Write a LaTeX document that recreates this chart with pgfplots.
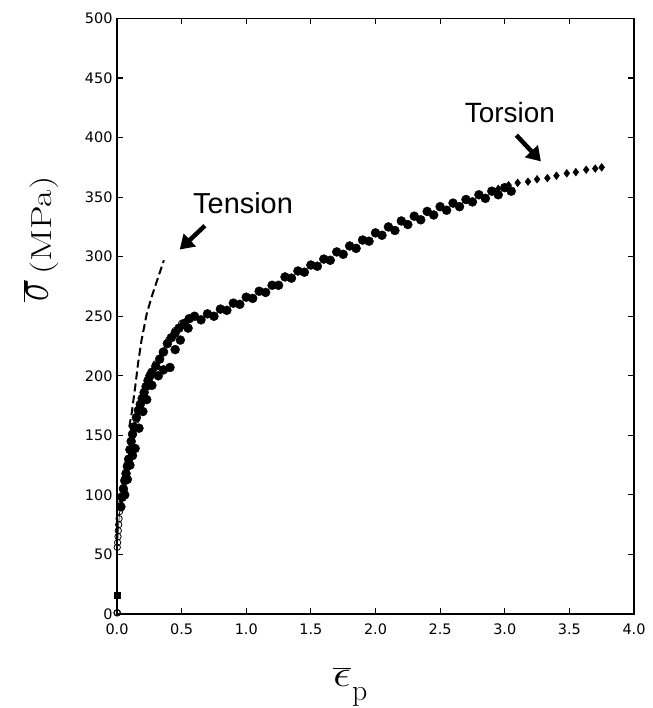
\RequirePackage{fix-cm}
\documentclass[border=0pt]{standalone}
\usepackage{pgfplots}
\pgfplotsset{compat=1.18}
\usepackage{fontspec}
\usetikzlibrary{arrows.meta}
\newfontfamily\hv{Liberation Sans}
\newfontfamily\dv{DejaVu Sans}

% torsion data, upper row of filled circles
\pgfplotstableread{
x y
0.03 90
0.04 98
0.05 105
0.06 112
0.07 118
0.08 124
0.09 130
0.10 138
0.11 145
0.12 151
0.13 157
0.15 165
0.165 171
0.18 176
0.195 181
0.21 186
0.225 191
0.24 196
0.255 200
0.27 203
0.30 208
0.33 214
0.36 220
0.39 227
0.42 232
0.45 236
0.48 240
0.52 244
0.56 248
0.60 250
0.70 252
0.80 256
0.90 261
1.00 266
1.10 271
1.20 276
1.30 283
1.40 288
1.50 293
1.60 298
1.70 304
1.80 309
1.90 314
2.00 320
2.10 325
2.20 330
2.30 334
2.40 338
2.50 342
2.60 345
2.70 348
2.80 352
2.90 355
3.00 358
}\torsionup

% torsion data, lower row of filled circles
\pgfplotstableread{
x y
0.06 100
0.08 113
0.10 125
0.12 133
0.14 139
0.17 156
0.20 170
0.23 180
0.27 192
0.32 200
0.36 205
0.41 207
0.45 222
0.49 230
0.55 240
0.65 247
0.75 250
0.85 255
0.95 260
1.05 265
1.15 270
1.25 276
1.35 282
1.45 287
1.55 292
1.65 297
1.75 302
1.85 307
1.95 313
2.05 318
2.15 322
2.25 327
2.35 331
2.45 335
2.55 339
2.65 342
2.75 346
2.85 349
2.95 352
3.05 355
}\torsionlow

% torsion data, diamonds at large strain
\pgfplotstableread{
x y
2.95 357
3.03 360
3.10 362
3.18 363
3.25 365
3.33 366
3.40 368
3.48 370
3.55 371
3.63 373
3.70 374
3.75 375
}\torsiondiam

% small open circles near the origin
\pgfplotstableread{
x y
0.000 1
0.002 56
0.005 60
0.008 65
0.010 70
0.013 75
0.016 80
0.020 86
0.025 92
0.032 99
0.045 106
0.060 114
0.080 126
0.100 138
0.120 150
0.150 163
0.180 175
0.210 187
0.250 198
0.300 210
0.350 220
0.400 230
0.450 238
0.500 244
0.550 248
}\torsionopen

% tension curve
\pgfplotstableread{
x y
0.095 157
0.114 169
0.140 190
0.165 212
0.190 230
0.230 252
0.270 267
0.310 280
0.363 297
}\tensiondata

\begin{document}
\begin{tikzpicture}
\begin{axis}[
  scale only axis,
  width=517bp, height=595.5bp,
  xmin=0, xmax=4, ymin=0, ymax=500,
  xtick={0,0.5,...,4}, ytick={0,50,...,500},
  xticklabel style={/pgf/number format/fixed, /pgf/number format/fixed zerofill, /pgf/number format/precision=1},
  /pgf/number format/assume math mode=true,
  tick label style={font=\dv\fontsize{14.5}{16}\selectfont},
  xticklabel style={yshift=-6bp},
  yticklabel style={xshift=-1bp},
  tick align=inside, major tick length=6bp,
  tick style={line width=1.2bp, black},
  axis line style={line width=1.6bp},
  clip=false,
]
\addplot[line width=0.6bp, mark=o, mark size=3.2bp, mark options={fill=white, line width=0.8bp}] table {\torsionopen};
\addplot[only marks, mark=*, mark size=4.5bp] table {\torsionlow};
\addplot[only marks, mark=*, mark size=4.5bp] table {\torsionup};
\addplot[only marks, mark=diamond*, mark size=3.9bp] table {\torsiondiam};
\addplot[only marks, mark=square*, mark size=3bp] coordinates {(0.003,16)};
\addplot[only marks, mark=o, mark size=3.2bp, mark options={line width=0.9bp}] coordinates {(0.003,1)};
\addplot[line width=2bp, dash pattern=on 8bp off 4bp] table {\tensiondata};

\node[font=\hv\fontsize{29}{29}\selectfont] at (axis cs:0.975,345) {Tension};
\draw[line width=4.5bp, -{Triangle[length=14bp, width=17bp]}] (axis cs:0.68,326) -- (axis cs:0.485,306);
\node[font=\hv\fontsize{28}{28}\selectfont] at (axis cs:3.04,421) {Torsion};
\draw[line width=4.5bp, -{Triangle[length=14bp, width=17bp]}] (axis cs:3.09,402) -- (axis cs:3.28,380);

\node[rotate=90, anchor=base west, inner sep=0pt] at ([xshift=-69bp]axis cs:0,262)
  {\scalebox{0.7}[1]{\fontsize{53}{53}\selectfont$\overline{\sigma}$}\hspace{5bp}\raisebox{-4bp}{\scalebox{1.3}[1]{\fontsize{29}{29}\selectfont(MPa)}}};
\node[anchor=base west, inner sep=0pt] at ([yshift=-72bp]axis cs:1.67,0)
  {\scalebox{1.2}[1]{\fontsize{38}{38}\selectfont$\overline{\epsilon}$}\hspace{1bp}\raisebox{-14bp}{\fontsize{30}{30}\selectfont p}};
\end{axis}
\pgfresetboundingbox
\path ([shift={(-117bp,-94bp)}]current axis.south west) rectangle ([shift={(19bp,18.5bp)}]current axis.north east);
\end{tikzpicture}
\end{document}
